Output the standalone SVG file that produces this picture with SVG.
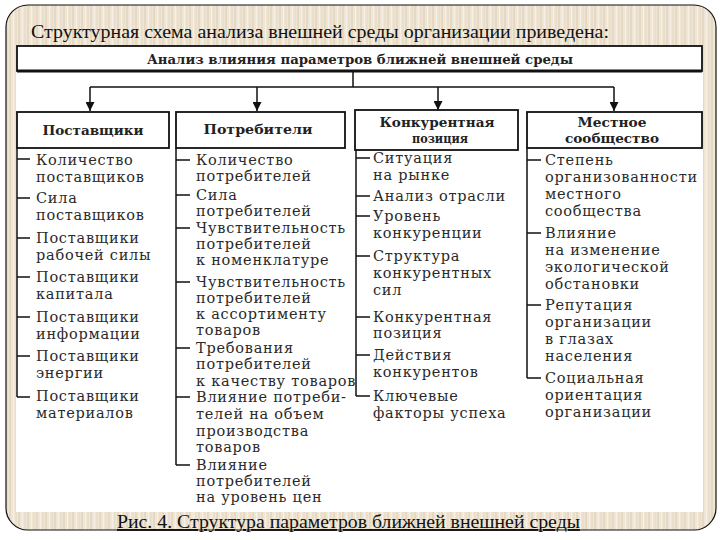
<svg xmlns="http://www.w3.org/2000/svg" width="720" height="540" viewBox="0 0 720 540">
<defs>
<pattern id="stripes" patternUnits="userSpaceOnUse" width="9" height="10">
<rect width="9" height="10" fill="#efe6d6"/>
<rect x="0" width="2" height="10" fill="#e5d9c4"/>
<rect x="4" width="1" height="10" fill="#f6f0e6"/>
<rect x="6" width="2" height="10" fill="#e9dfcc"/>
</pattern>
<marker id="arr" viewBox="0 0 10 10" refX="10" refY="5" markerWidth="9" markerHeight="9" markerUnits="userSpaceOnUse" orient="auto">
<path d="M0,0 L10,5 L0,10 z" fill="#111"/>
</marker>
</defs>
<style>
.ttl{font-family:"Liberation Serif",serif;font-size:19px;fill:#111}
.hdr{font-family:"DejaVu Serif",serif;font-size:13.5px;font-weight:bold;fill:#222}
.bt{font-family:"DejaVu Serif",serif;font-size:13.5px;font-weight:bold;fill:#222;text-anchor:middle}
.it{font-family:"DejaVu Serif",serif;font-size:14.5px;letter-spacing:0.75px;fill:#2a2a2a}
.box{fill:#fff;stroke:#111;stroke-width:1.8}
.ln{fill:none;stroke:#111;stroke-width:1.5}
</style>
<rect width="720" height="540" fill="#fff"/>
<rect x="6" y="5" width="710" height="525" rx="22" ry="22" fill="url(#stripes)" stroke="#111" stroke-width="1.2"/>
<rect x="16" y="46" width="687" height="466" fill="#fff"/>
<text class="ttl" x="31" y="38" textLength="578" lengthAdjust="spacingAndGlyphs">Структурная схема анализа внешней среды организации приведена:</text>

<g id="header">
<rect class="box" x="17" y="46" width="685" height="25"/>
<line x1="17" y1="71" x2="702" y2="71" stroke="#111" stroke-width="3"/>
<text class="hdr" x="147" y="64" textLength="426" lengthAdjust="spacingAndGlyphs">Анализ влияния параметров ближней внешней среды</text>
</g>

<g id="connectors">
<line class="ln" x1="353" y1="72" x2="353" y2="87"/>
<line class="ln" x1="90" y1="87" x2="614" y2="87"/>
<line class="ln" x1="90" y1="87" x2="90" y2="111" marker-end="url(#arr)"/>
<line class="ln" x1="257" y1="87" x2="257" y2="111" marker-end="url(#arr)"/>
<line class="ln" x1="438" y1="87" x2="438" y2="110" marker-end="url(#arr)"/>
<line class="ln" x1="614" y1="87" x2="614" y2="111" marker-end="url(#arr)"/>
<path class="ln" d="M17,148 V397 M17,159 H30 M17,198 H30 M17,238 H30 M17,277 H30 M17,317 H30 M17,356 H30 M17,397 H30"/>
<path class="ln" d="M176,148 V465 M176,160 H190 M176,195 H190 M176,228 H190 M176,282 H190 M176,348 H190 M176,397 H190 M176,465 H190"/>
<path class="ln" d="M356,150 V396 M356,158 H370 M356,196 H370 M356,216 H370 M356,256 H370 M356,317 H370 M356,355 H370 M356,396 H370"/>
<path class="ln" d="M527,148 V378 M527,160 H541 M527,233 H541 M527,305 H541 M527,378 H541"/>
</g>

<g id="suppliers">
<rect class="box" x="17" y="112" width="152" height="36"/>
<text class="bt" x="93" y="135" textLength="101" lengthAdjust="spacingAndGlyphs">Поставщики</text>
<text class="it" x="36" y="165">Количество</text>
<text class="it" x="36" y="182">поставщиков</text>
<text class="it" x="36" y="203">Сила</text>
<text class="it" x="36" y="220">поставщиков</text>
<text class="it" x="36" y="243">Поставщики</text>
<text class="it" x="36" y="260">рабочей силы</text>
<text class="it" x="36" y="282">Поставщики</text>
<text class="it" x="36" y="299">капитала</text>
<text class="it" x="36" y="322">Поставщики</text>
<text class="it" x="36" y="339">информации</text>
<text class="it" x="36" y="361">Поставщики</text>
<text class="it" x="36" y="378">энергии</text>
<text class="it" x="36" y="401">Поставщики</text>
<text class="it" x="36" y="418">материалов</text>
</g>

<g id="consumers">
<rect class="box" x="176" y="112" width="169" height="36"/>
<text class="bt" x="258" y="134" textLength="109" lengthAdjust="spacingAndGlyphs">Потребители</text>
<text class="it" x="196" y="165">Количество</text>
<text class="it" x="196" y="181">потребителей</text>
<text class="it" x="196" y="200">Сила</text>
<text class="it" x="196" y="216">потребителей</text>
<text class="it" x="196" y="233">Чувствительность</text>
<text class="it" x="196" y="249">потребителей</text>
<text class="it" x="196" y="265">к номенклатуре</text>
<text class="it" x="196" y="287">Чувствительность</text>
<text class="it" x="196" y="303">потребителей</text>
<text class="it" x="196" y="319">к ассортименту</text>
<text class="it" x="196" y="335">товаров</text>
<text class="it" x="196" y="353">Требования</text>
<text class="it" x="196" y="369">потребителей</text>
<text class="it" x="196" y="386">к качеству товаров</text>
<text class="it" x="196" y="402">Влияние потреби-</text>
<text class="it" x="196" y="419">телей на объем</text>
<text class="it" x="196" y="436">производства</text>
<text class="it" x="196" y="452">товаров</text>
<text class="it" x="196" y="470">Влияние</text>
<text class="it" x="196" y="486">потребителей</text>
<text class="it" x="196" y="502">на уровень цен</text>
</g>

<g id="competitive">
<rect class="box" x="355" y="110" width="163" height="40"/>
<text class="bt" x="437" y="127" textLength="115" lengthAdjust="spacingAndGlyphs">Конкурентная</text>
<text class="bt" x="440" y="143" textLength="56" lengthAdjust="spacingAndGlyphs">позиция</text>
<text class="it" x="373" y="163">Ситуация</text>
<text class="it" x="373" y="180">на рынке</text>
<text class="it" x="373" y="201">Анализ отрасли</text>
<text class="it" x="373" y="221">Уровень</text>
<text class="it" x="373" y="238">конкуренции</text>
<text class="it" x="373" y="261">Структура</text>
<text class="it" x="373" y="278">конкурентных</text>
<text class="it" x="373" y="295">сил</text>
<text class="it" x="373" y="322">Конкурентная</text>
<text class="it" x="373" y="338">позиция</text>
<text class="it" x="373" y="360">Действия</text>
<text class="it" x="373" y="377">конкурентов</text>
<text class="it" x="373" y="401">Ключевые</text>
<text class="it" x="373" y="418">факторы успеха</text>
</g>

<g id="community">
<rect class="box" x="527" y="112" width="175" height="36"/>
<text class="bt" x="612" y="127" textLength="69" lengthAdjust="spacingAndGlyphs">Местное</text>
<text class="bt" x="612" y="143" textLength="94" lengthAdjust="spacingAndGlyphs">сообщество</text>
<text class="it" x="545" y="165">Степень</text>
<text class="it" x="545" y="182">организованности</text>
<text class="it" x="545" y="199">местного</text>
<text class="it" x="545" y="216">сообщества</text>
<text class="it" x="545" y="238">Влияние</text>
<text class="it" x="545" y="255">на изменение</text>
<text class="it" x="545" y="272">экологической</text>
<text class="it" x="545" y="289">обстановки</text>
<text class="it" x="545" y="310">Репутация</text>
<text class="it" x="545" y="327">организации</text>
<text class="it" x="545" y="344">в глазах</text>
<text class="it" x="545" y="361">населения</text>
<text class="it" x="545" y="383">Социальная</text>
<text class="it" x="545" y="400">ориентация</text>
<text class="it" x="545" y="417">организации</text>
</g>

<text class="ttl" x="117" y="528" textLength="463" lengthAdjust="spacingAndGlyphs" text-decoration="underline">Рис. 4. Структура параметров ближней внешней среды</text>
</svg>
